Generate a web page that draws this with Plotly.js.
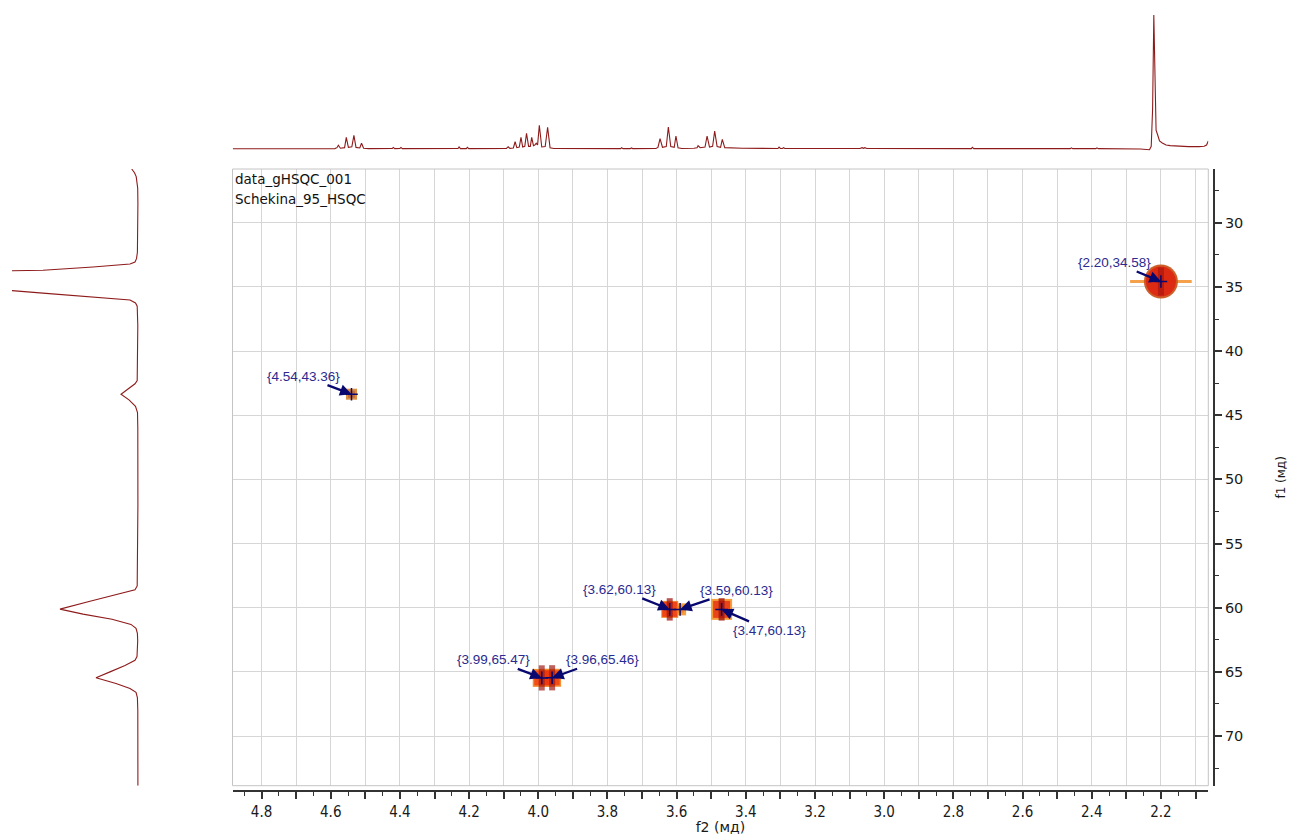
<!DOCTYPE html>
<html>
<head>
<meta charset="utf-8">
<script src="https://cdn.plot.ly/plotly-3.0.1.min.js"></script>
<style>
  html, body { margin: 0; padding: 0; background: #ffffff; }
  #chart { width: 1289px; height: 835px; }
</style>
</head>
<body>
<div id="chart"></div>
<script>
// HSQC cross peaks: proton shift (f2) and carbon shift (f1), ppm
const peakF2 = [2.20, 4.54, 3.62, 3.59, 3.47, 3.99, 3.96];
const peakF1 = [34.58, 43.36, 60.13, 60.13, 60.13, 65.47, 65.46];

// 1H projection (top trace): shift in ppm and relative intensity
const protonPpm = [
  4.883, 4.70, 4.60, 4.588, 4.582, 4.578, 4.572, 4.560, 4.555, 4.549, 4.539, 4.533, 4.527, 4.516, 4.511, 4.505, 4.49,
  4.422, 4.419, 4.415, 4.400, 4.397, 4.393, 4.35, 4.232, 4.229, 4.225, 4.208, 4.205, 4.201, 4.10,
  4.092, 4.087, 4.082, 4.072, 4.067, 4.062, 4.055, 4.050, 4.045, 4.039, 4.034, 4.028, 4.023, 4.019, 4.014,
  4.010, 4.006, 4.002, 3.997, 3.990, 3.980, 3.973, 3.966, 3.955, 3.90,
  3.762, 3.759, 3.755, 3.734, 3.731, 3.727, 3.660, 3.654, 3.648, 3.641, 3.630, 3.624, 3.617, 3.607, 3.602, 3.596, 3.585,
  3.55, 3.541, 3.538, 3.532, 3.518, 3.512, 3.505, 3.496, 3.490, 3.483, 3.473, 3.468, 3.461, 3.45, 3.41,
  3.307, 3.304, 3.300, 3.294, 3.291, 3.287, 3.07, 3.064, 3.060, 3.056, 3.05,
  2.748, 2.745, 2.741, 2.462, 2.459, 2.455, 2.388, 2.385, 2.381, 2.26,
  2.233, 2.228, 2.224, 2.2205, 2.2175, 2.214, 2.210, 2.204, 2.196, 2.185, 2.173, 2.15, 2.12, 2.09, 2.075, 2.068, 2.063
];
const protonInt = [
  0.2, 0.2, 0.3, 0.3, 1.0, 2.8, 0.6, 1.0, 8.7, 1.2, 1.6, 10.2, 1.2, 0.8, 4.3, 0.6, 0.3,
  0.4, 1.2, 0.3, 0.4, 1.2, 0.3, 0.4, 0.4, 1.5, 0.3, 0.3, 1.2, 0.3, 0.3,
  0.4, 1.7, 0.5, 0.8, 5.4, 1.0, 1.5, 8.7, 1.5, 2.0, 11.7, 2.0, 2.0, 8.7, 2.5,
  3.0, 4.3, 3.0, 17.7, 1.5, 1.8, 16.2, 1.0, 0.4, 0.3,
  0.3, 1.0, 0.3, 0.3, 0.8, 0.3, 0.4, 1.2, 7.7, 1.3, 1.8, 16.4, 1.8, 1.3, 9.7, 0.9, 0.4,
  0.6, 1.0, 2.5, 1.0, 1.5, 9.7, 1.5, 2.0, 13.4, 1.8, 1.3, 7.2, 1.0, 0.8, 0.6,
  0.4, 1.5, 0.4, 0.4, 1.0, 0.4, 0.4, 1.0, 0.5, 1.0, 0.4,
  0.3, 1.3, 0.3, 0.3, 0.9, 0.3, 0.3, 0.9, 0.3, 0.0,
  -0.5, 2.0, 30, 100, 60, 14, 11, 6, 4.5, 3, 2.5, 2.0, 1.8, 1.8, 2.0, 3.0, 6.0
];

// 13C projection (left trace): shift in ppm and intensity
const carbonPpm = [
  25.81, 26.1, 26.4, 26.8, 27.3, 28.5, 31.0, 32.3, 32.8, 33.06, 33.22, 33.45, 33.7, 33.86, 34.1, 34.58,
  35.05, 35.29, 35.5, 35.75, 36.02, 36.25, 36.5, 38.0, 41.5, 42.29, 42.55, 42.9, 43.36, 43.8, 44.3, 44.8,
  46.0, 52.0, 57.5, 58.3, 58.6, 59.0, 59.5, 60.11, 60.5, 60.9, 61.3, 61.6, 62.0, 62.6, 63.4, 63.8,
  64.1, 64.5, 65.0, 65.46, 65.9, 66.3, 66.6, 67.0, 68.0, 73.87
];
const carbonInt = [
  6.3, 3.5, 1.8, 0.8, 0.3, 0.1, 0.2, 0.6, 1.5, 3, 8, 45, 95, 126, 210, 900,
  210, 126, 92, 52, 8, 2.5, 0.8, 0.2, 0.3, 0.8, 3, 9, 17, 9, 2.5, 0.5,
  0.2, 0.1, 0.3, 0.8, 3, 22, 48, 78, 55, 26, 7, 2, 0.6, 0.3, 0.4, 1,
  3, 13, 28, 42, 22, 8, 2, 0.6, 0.2, 0.1
];

// f2 axis ticks (every 0.1 ppm gets a gridline; every 0.2 ppm a label)
const f2GridTicks = [4.8, 4.7, 4.6, 4.5, 4.4, 4.3, 4.2, 4.1, 4.0, 3.9, 3.8, 3.7, 3.6, 3.5, 3.4,
                     3.3, 3.2, 3.1, 3.0, 2.9, 2.8, 2.7, 2.6, 2.5, 2.4, 2.3, 2.2, 2.1];
const f2LabelTicks = [4.8, 4.6, 4.4, 4.2, 4.0, 3.8, 3.6, 3.4, 3.2, 3.0, 2.8, 2.6, 2.4, 2.2];

const spectrumTitle = ['data_gHSQC_001', 'Schekina_95_HSQC'];

// ---- styling ----
const W = 1289, H = 835;
const px = v => v / W;           // horizontal pixel -> paper fraction
const py = v => 1 - v / H;       // vertical pixel -> paper fraction
const mainX = [px(232.5), px(1208.3)];
const mainY = [py(785.7), py(169)];
const traceColor = '#8e1b1b';
const labelColor = '#2a2a90';
const arrowColor = '#08086e';
const gridColor = '#d6d6d6';
const axisColor = '#333333';

// label offsets (pixels) of each cross-peak annotation from its point
const labelOffsets = [[-46, -19], [-48, -18], [-50, -20], [56, -19], [48, 21], [-48, -18], [50, -18]];
// cross-peak blob appearance
const haloSymbol = ['circle', 'square', 'square', 'square', 'square', 'square', 'square'];
const haloSize  = [34, 11, 17, 12, 21, 18, 18];
const haloColor = ['#c9571f', '#d98a3c', '#f08a2a', '#f39a36', '#f49a30', '#f08a2a', '#f08a2a'];
const bodySize  = [30, 7, 15, 7, 17, 15, 15];
const bodyColor = ['#e4140a', '#b8612c', '#ef250c', '#f07a22', '#e4200c', '#f0300c', '#f0300c'];
const coreSize  = [20, 0, 16, 0, 16, 18, 18];
const coreOpac  = [0.55, 0, 0.7, 0, 0.75, 0.65, 0.65];

const traces = [
  // top 1H projection
  {
    x: protonPpm, y: protonInt, xaxis: 'x2', yaxis: 'y2',
    type: 'scatter', mode: 'lines',
    line: { color: traceColor, width: 1.1 },
    hoverinfo: 'skip'
  },
  // left 13C projection
  {
    x: carbonInt, y: carbonPpm, xaxis: 'x3', yaxis: 'y3',
    type: 'scatter', mode: 'lines',
    line: { color: traceColor, width: 1.1 },
    hoverinfo: 'skip'
  },
  // horizontal orange spread of the strongest peak
  {
    x: [peakF2[0]], y: [peakF1[0]], type: 'scatter', mode: 'markers',
    marker: { symbol: 'line-ew', size: 44, line: { color: '#f5a04a', width: 3 } },
    hoverinfo: 'skip'
  },
  // cross-peak halo (outer contour level)
  {
    x: peakF2, y: peakF1, type: 'scatter', mode: 'markers',
    marker: { symbol: haloSymbol, size: haloSize, color: haloColor, opacity: 0.95, line: { width: 0 } },
    hoverinfo: 'skip'
  },
  // cross-peak body (red contour level)
  {
    x: peakF2, y: peakF1, type: 'scatter', mode: 'markers',
    marker: { symbol: haloSymbol, size: bodySize, color: bodyColor, line: { width: 0 } },
    hoverinfo: 'skip'
  },
  // cross-peak core (dark red)
  {
    x: peakF2, y: peakF1, type: 'scatter', mode: 'markers',
    marker: { symbol: 'line-ns', size: coreSize, opacity: coreOpac, line: { color: '#9c0f0c', width: 6 } },
    hoverinfo: 'skip'
  },
  // picked peak positions
  {
    x: peakF2, y: peakF1, type: 'scatter', mode: 'markers',
    marker: { symbol: 'cross-thin', size: 9, line: { color: arrowColor, width: 1.5 } },
    hoverinfo: 'skip'
  }
];

const annotations = peakF2.map((f2, i) => ({
  x: f2, y: peakF1[i], xref: 'x', yref: 'y',
  text: '{' + f2.toFixed(2) + ',' + peakF1[i].toFixed(2) + '}',
  showarrow: true, arrowhead: 2, arrowsize: 1, arrowwidth: 2.3, arrowcolor: arrowColor,
  standoff: 0, ax: labelOffsets[i][0], ay: labelOffsets[i][1],
  font: { family: 'Liberation Sans, Arial, sans-serif', size: 13.5, color: labelColor }
}));
spectrumTitle.forEach((t, i) => annotations.push({
  text: t, xref: 'paper', yref: 'paper', x: px(233), y: py(179 + 20 * i),
  xanchor: 'left', yanchor: 'middle', showarrow: false,
  font: { family: 'DejaVu Sans, sans-serif', size: 13.5, color: '#111' }
}));

const layout = {
  width: W, height: H,
  margin: { l: 0, r: 0, t: 0, b: 0 },
  paper_bgcolor: '#ffffff', plot_bgcolor: '#ffffff',
  showlegend: false,
  xaxis: {
    domain: mainX, range: [4.884, 2.063], anchor: 'free', position: py(791),
    tickmode: 'array', tickvals: f2GridTicks,
    ticktext: f2GridTicks.map(v => f2LabelTicks.includes(v) ? v.toFixed(1) : ''),
    ticks: 'outside', ticklen: 7, tickwidth: 1.5, tickcolor: axisColor,
    showline: true, linecolor: axisColor, linewidth: 2,
    showgrid: true, gridcolor: gridColor, gridwidth: 1, zeroline: false,
    minor: { tick0: 0, dtick: 0.05, ticks: 'outside', ticklen: 4, tickwidth: 1.2, tickcolor: axisColor, showgrid: false },
    tickfont: { family: 'DejaVu Sans Condensed, DejaVu Sans, sans-serif', size: 15, color: '#1a1a1a' },
    title: { text: 'f2 (мд)', standoff: 0, font: { family: 'DejaVu Sans, sans-serif', size: 14, color: '#1a1a1a' } }
  },
  yaxis: {
    domain: mainY, range: [73.87, 25.81], side: 'right', anchor: 'free', position: px(1214),
    tick0: 0, dtick: 5,
    ticks: 'outside', ticklen: 7, tickwidth: 1.5, tickcolor: axisColor,
    showline: true, linecolor: axisColor, linewidth: 2,
    showgrid: true, gridcolor: gridColor, gridwidth: 1, zeroline: false,
    minor: { tick0: 0, dtick: 2.5, ticks: 'outside', ticklen: 4, tickwidth: 1.2, tickcolor: axisColor, showgrid: false },
    tickfont: { family: 'DejaVu Sans, sans-serif', size: 14.5, color: '#1a1a1a' },
    title: { text: 'f1 (мд)', standoff: 33, font: { family: 'DejaVu Sans, sans-serif', size: 12, color: '#1a1a1a' } }
  },
  xaxis2: { domain: mainX, matches: 'x', anchor: 'y2', visible: false, showgrid: false, zeroline: false },
  yaxis2: { domain: [py(160), py(10)], range: [-8.2, 103.7], anchor: 'x2', visible: false, showgrid: false, zeroline: false },
  xaxis3: { domain: [px(12), px(150)], range: [126, -12], anchor: 'y3', visible: false, showgrid: false, zeroline: false },
  yaxis3: { domain: mainY, matches: 'y', anchor: 'x3', visible: false, showgrid: false, zeroline: false },
  shapes: [{
    type: 'rect', xref: 'paper', yref: 'paper',
    x0: mainX[0], x1: mainX[1], y0: mainY[0], y1: mainY[1],
    line: { color: '#c4c4c4', width: 1 }, fillcolor: 'rgba(0,0,0,0)', layer: 'above'
  }],
  annotations: annotations
};

Plotly.newPlot('chart', traces, layout, { displayModeBar: false, responsive: false });
</script>
</body>
</html>
